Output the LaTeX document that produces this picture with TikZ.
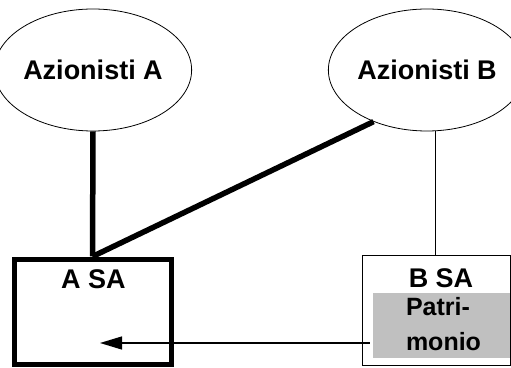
\documentclass[tikz,border=0pt]{standalone}
\usepackage{fontspec}
\setmainfont{Liberation Sans}
\usetikzlibrary{shapes.geometric,arrows.meta}
\begin{document}
\begin{tikzpicture}[x=1pt,y=1pt,
  holder/.style={draw, ellipse, minimum width=170pt, minimum height=122pt, inner sep=0pt,
    line width=0.8pt, font=\fontsize{27}{31}\selectfont\bfseries},
  label/.style={anchor=base, inner sep=0pt, font=\fontsize{27}{31}\selectfont\bfseries},
  smalllabel/.style={anchor=base, inner sep=0pt, font=\fontsize{25}{29}\selectfont\bfseries},
  heavy/.style={line width=5.5pt},
  thin/.style={line width=0.8pt}]
\useasboundingbox (0,0) rectangle (511,367);

% shareholders
\node[holder] (ellA) at (93,297) {Azionisti A};
\node[holder, minimum width=168pt] (ellB) at (427,297) {Azionisti B};

% companies
\node[draw, line width=5pt, minimum width=157pt, minimum height=105pt, inner sep=0pt] (boxA) at (92.5,55.5) {};
\node[draw, thin, minimum width=148pt, minimum height=110pt, inner sep=0pt] (boxB) at (436,57) {};
\node[fill={rgb,255:red,192;green,192;blue,192}, minimum width=137pt, minimum height=65pt, inner sep=0pt] (pat) at (441.5,41.5) {};

\node[label] (tA) at (93.5,79) {A SA};
\node[label] (tB) at (441,80) {B SA};
\node[smalllabel] (p1) at (438,52) {Patri-};
\node[smalllabel] (p2) at (443.5,17) {monio};

% ownership links
\draw[heavy] (ellA.south) -- (boxA.north);
\draw[heavy, line cap=butt] (ellB.224) -- (boxA.north);
\draw[thin] ([xshift=8pt]ellB.south) -- ([xshift=-1pt]boxB.north);

% transfer of assets
\coordinate (tip) at (100,24);
\draw[line width=1.3pt, -{Triangle[length=22pt,width=13pt]}] ([xshift=-3pt]pat.west |- tip) -- (tip);
\end{tikzpicture}
\end{document}
